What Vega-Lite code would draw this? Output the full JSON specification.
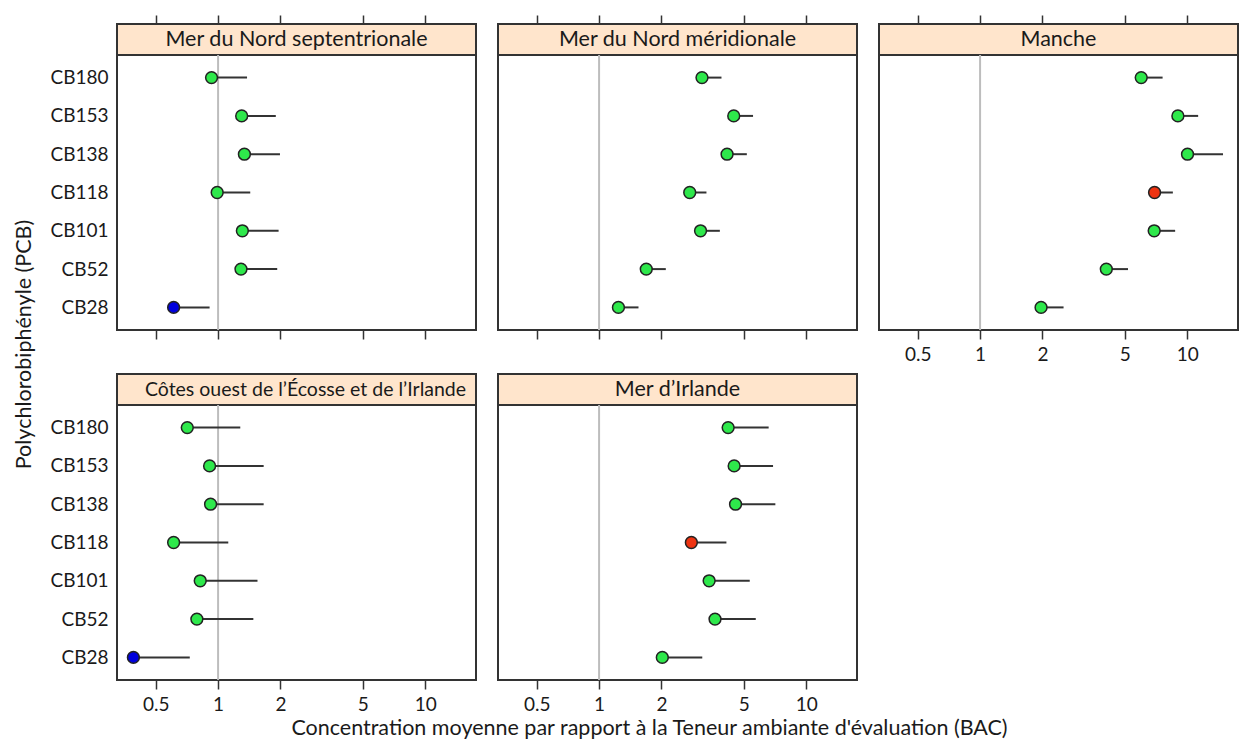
{
  "$schema": "https://vega.github.io/schema/vega-lite/v6.json",
  "padding": {"left": 12, "top": 13, "right": 0, "bottom": 2},
  "background": "white",
  "config": {
    "font": "Lato",
    "view": {"stroke": "#333333", "strokeWidth": 2},
    "axis": {"grid": false, "domain": false, "labelFont": "Lato", "labelFontSize": 19, "labelColor": "#1a1a1a", "tickColor": "#333333", "tickWidth": 1.5},
    "axisX": {"tickSize": 9, "labelPadding": 6},
    "axisY": {"ticks": false, "labelPadding": 9},
    "text": {"font": "Lato", "fontSize": 21.5, "color": "#1a1a1a"}
  },
  "title": {"text": "Concentration moyenne par rapport à la Teneur ambiante d'évaluation (BAC)", "orient": "bottom", "anchor": "middle", "dx": 24, "font": "Lato", "fontSize": 21.5, "fontWeight": "normal", "color": "#1a1a1a", "offset": 3},
  "datasets": {
    "pcb": [
      {"region": "Mer du Nord septentrionale", "pcb": "CB180", "mean": 0.93, "upper": 1.38, "status": "vert"},
      {"region": "Mer du Nord septentrionale", "pcb": "CB153", "mean": 1.30, "upper": 1.90, "status": "vert"},
      {"region": "Mer du Nord septentrionale", "pcb": "CB138", "mean": 1.34, "upper": 1.99, "status": "vert"},
      {"region": "Mer du Nord septentrionale", "pcb": "CB118", "mean": 0.99, "upper": 1.43, "status": "vert"},
      {"region": "Mer du Nord septentrionale", "pcb": "CB101", "mean": 1.31, "upper": 1.96, "status": "vert"},
      {"region": "Mer du Nord septentrionale", "pcb": "CB52", "mean": 1.29, "upper": 1.93, "status": "vert"},
      {"region": "Mer du Nord septentrionale", "pcb": "CB28", "mean": 0.61, "upper": 0.91, "status": "bleu"},
      {"region": "Mer du Nord méridionale", "pcb": "CB180", "mean": 3.14, "upper": 3.90, "status": "vert"},
      {"region": "Mer du Nord méridionale", "pcb": "CB153", "mean": 4.47, "upper": 5.54, "status": "vert"},
      {"region": "Mer du Nord méridionale", "pcb": "CB138", "mean": 4.15, "upper": 5.17, "status": "vert"},
      {"region": "Mer du Nord méridionale", "pcb": "CB118", "mean": 2.74, "upper": 3.30, "status": "vert"},
      {"region": "Mer du Nord méridionale", "pcb": "CB101", "mean": 3.09, "upper": 3.83, "status": "vert"},
      {"region": "Mer du Nord méridionale", "pcb": "CB52", "mean": 1.69, "upper": 2.10, "status": "vert"},
      {"region": "Mer du Nord méridionale", "pcb": "CB28", "mean": 1.24, "upper": 1.55, "status": "vert"},
      {"region": "Manche", "pcb": "CB180", "mean": 6.0, "upper": 7.61, "status": "vert"},
      {"region": "Manche", "pcb": "CB153", "mean": 9.02, "upper": 11.3, "status": "vert"},
      {"region": "Manche", "pcb": "CB138", "mean": 10.04, "upper": 14.9, "status": "vert"},
      {"region": "Manche", "pcb": "CB118", "mean": 6.96, "upper": 8.53, "status": "rouge"},
      {"region": "Manche", "pcb": "CB101", "mean": 6.93, "upper": 8.75, "status": "vert"},
      {"region": "Manche", "pcb": "CB52", "mean": 4.07, "upper": 5.18, "status": "vert"},
      {"region": "Manche", "pcb": "CB28", "mean": 1.97, "upper": 2.53, "status": "vert"},
      {"region": "Côtes ouest de l’Écosse et de l’Irlande", "pcb": "CB180", "mean": 0.71, "upper": 1.28, "status": "vert"},
      {"region": "Côtes ouest de l’Écosse et de l’Irlande", "pcb": "CB153", "mean": 0.91, "upper": 1.66, "status": "vert"},
      {"region": "Côtes ouest de l’Écosse et de l’Irlande", "pcb": "CB138", "mean": 0.92, "upper": 1.66, "status": "vert"},
      {"region": "Côtes ouest de l’Écosse et de l’Irlande", "pcb": "CB118", "mean": 0.61, "upper": 1.12, "status": "vert"},
      {"region": "Côtes ouest de l’Écosse et de l’Irlande", "pcb": "CB101", "mean": 0.82, "upper": 1.55, "status": "vert"},
      {"region": "Côtes ouest de l’Écosse et de l’Irlande", "pcb": "CB52", "mean": 0.79, "upper": 1.48, "status": "vert"},
      {"region": "Côtes ouest de l’Écosse et de l’Irlande", "pcb": "CB28", "mean": 0.39, "upper": 0.73, "status": "bleu"},
      {"region": "Mer d’Irlande", "pcb": "CB180", "mean": 4.20, "upper": 6.59, "status": "vert"},
      {"region": "Mer d’Irlande", "pcb": "CB153", "mean": 4.49, "upper": 6.92, "status": "vert"},
      {"region": "Mer d’Irlande", "pcb": "CB138", "mean": 4.56, "upper": 7.10, "status": "vert"},
      {"region": "Mer d’Irlande", "pcb": "CB118", "mean": 2.79, "upper": 4.12, "status": "rouge"},
      {"region": "Mer d’Irlande", "pcb": "CB101", "mean": 3.40, "upper": 5.34, "status": "vert"},
      {"region": "Mer d’Irlande", "pcb": "CB52", "mean": 3.63, "upper": 5.71, "status": "vert"},
      {"region": "Mer d’Irlande", "pcb": "CB28", "mean": 2.02, "upper": 3.15, "status": "vert"}
    ]
  },
  "bounds": "flush",
  "align": "each",
  "center": false,
  "columns": 3,
  "spacing": {"row": 0, "column": 22},
  "concat": [
    {
      "width": 359, "height": 31,
      "view": {"fill": "#ffe5cc", "stroke": "#333333", "strokeWidth": 2},
      "data": {"values": [{"label": "Mer du Nord septentrionale"}]},
      "layer": [
        {"mark": {"type": "rule", "opacity": 0}, "encoding": {"x": {"datum": 1, "type": "quantitative", "scale": {"type": "log", "domain": [0.325, 17.6], "nice": false}, "axis": {"orient": "top", "labels": false, "values": [0.5, 1, 2, 5, 10], "title": null}}}},
        {"mark": {"type": "text", "baseline": "middle", "align": "center"}, "encoding": {"text": {"field": "label"}}}
      ]
    },
    {
      "width": 359, "height": 31,
      "view": {"fill": "#ffe5cc", "stroke": "#333333", "strokeWidth": 2},
      "data": {"values": [{"label": "Mer du Nord méridionale"}]},
      "layer": [
        {"mark": {"type": "rule", "opacity": 0}, "encoding": {"x": {"datum": 1, "type": "quantitative", "scale": {"type": "log", "domain": [0.325, 17.6], "nice": false}, "axis": {"orient": "top", "labels": false, "values": [0.5, 1, 2, 5, 10], "title": null}}}},
        {"mark": {"type": "text", "baseline": "middle", "align": "center"}, "encoding": {"text": {"field": "label"}}}
      ]
    },
    {
      "width": 359, "height": 31,
      "view": {"fill": "#ffe5cc", "stroke": "#333333", "strokeWidth": 2},
      "data": {"values": [{"label": "Manche"}]},
      "layer": [
        {"mark": {"type": "rule", "opacity": 0}, "encoding": {"x": {"datum": 1, "type": "quantitative", "scale": {"type": "log", "domain": [0.325, 17.6], "nice": false}, "axis": {"orient": "top", "labels": false, "values": [0.5, 1, 2, 5, 10], "title": null}}}},
        {"mark": {"type": "text", "baseline": "middle", "align": "center"}, "encoding": {"text": {"field": "label"}}}
      ]
    },
    {
      "width": 359, "height": 275,
      "layer": [
        {"data": {"values": [{}]}, "mark": {"type": "rule", "color": "#bdbdbd", "strokeWidth": 2}, "encoding": {"x": {"datum": 1, "type": "quantitative", "scale": {"type": "log", "domain": [0.325, 17.6], "nice": false}, "axis": {"labels": false, "values": [0.5, 1, 2, 5, 10], "title": null}}}},
        {"data": {"name": "pcb"}, "transform": [{"filter": "datum.region === 'Mer du Nord septentrionale'"}], "mark": {"type": "rule", "color": "#333333", "strokeWidth": 2}, "encoding": {"x": {"field": "mean", "type": "quantitative"}, "x2": {"field": "upper"}, "y": {"field": "pcb", "type": "nominal", "sort": ["CB180", "CB153", "CB138", "CB118", "CB101", "CB52", "CB28"], "scale": {"type": "point", "padding": 0.59}, "axis": {"title": "Polychlorobiphényle (PCB)", "titleX": -93, "titleY": 289, "titleAngle": 270, "titleAlign": "center", "titleBaseline": "middle", "titleFont": "Lato", "titleFontSize": 21.5, "titleFontWeight": "normal", "titleColor": "#1a1a1a"}}}},
        {"data": {"name": "pcb"}, "transform": [{"filter": "datum.region === 'Mer du Nord septentrionale'"}], "mark": {"type": "circle", "size": 140, "stroke": "#222222", "strokeWidth": 1.5, "opacity": 1}, "encoding": {"x": {"field": "mean", "type": "quantitative"}, "y": {"field": "pcb", "type": "nominal", "sort": ["CB180", "CB153", "CB138", "CB118", "CB101", "CB52", "CB28"], "scale": {"type": "point", "padding": 0.59}, "axis": {"title": "Polychlorobiphényle (PCB)", "titleX": -93, "titleY": 289, "titleAngle": 270, "titleAlign": "center", "titleBaseline": "middle", "titleFont": "Lato", "titleFontSize": 21.5, "titleFontWeight": "normal", "titleColor": "#1a1a1a"}}, "fill": {"field": "status", "type": "nominal", "scale": {"domain": ["vert", "bleu", "rouge"], "range": ["#2ee84b", "#0000dd", "#ee3311"]}, "legend": null}}}
      ]
    },
    {
      "width": 359, "height": 275,
      "layer": [
        {"data": {"values": [{}]}, "mark": {"type": "rule", "color": "#bdbdbd", "strokeWidth": 2}, "encoding": {"x": {"datum": 1, "type": "quantitative", "scale": {"type": "log", "domain": [0.325, 17.6], "nice": false}, "axis": {"labels": false, "values": [0.5, 1, 2, 5, 10], "title": null}}}},
        {"data": {"name": "pcb"}, "transform": [{"filter": "datum.region === 'Mer du Nord méridionale'"}], "mark": {"type": "rule", "color": "#333333", "strokeWidth": 2}, "encoding": {"x": {"field": "mean", "type": "quantitative"}, "x2": {"field": "upper"}, "y": {"field": "pcb", "type": "nominal", "sort": ["CB180", "CB153", "CB138", "CB118", "CB101", "CB52", "CB28"], "scale": {"type": "point", "padding": 0.59}, "axis": null}}},
        {"data": {"name": "pcb"}, "transform": [{"filter": "datum.region === 'Mer du Nord méridionale'"}], "mark": {"type": "circle", "size": 140, "stroke": "#222222", "strokeWidth": 1.5, "opacity": 1}, "encoding": {"x": {"field": "mean", "type": "quantitative"}, "y": {"field": "pcb", "type": "nominal", "sort": ["CB180", "CB153", "CB138", "CB118", "CB101", "CB52", "CB28"], "scale": {"type": "point", "padding": 0.59}, "axis": null}, "fill": {"field": "status", "type": "nominal", "scale": {"domain": ["vert", "bleu", "rouge"], "range": ["#2ee84b", "#0000dd", "#ee3311"]}, "legend": null}}}
      ]
    },
    {
      "width": 359, "height": 275,
      "layer": [
        {"data": {"values": [{}]}, "mark": {"type": "rule", "color": "#bdbdbd", "strokeWidth": 2}, "encoding": {"x": {"datum": 1, "type": "quantitative", "scale": {"type": "log", "domain": [0.325, 17.6], "nice": false}, "axis": {"format": "~g", "values": [0.5, 1, 2, 5, 10], "title": null}}}},
        {"data": {"name": "pcb"}, "transform": [{"filter": "datum.region === 'Manche'"}], "mark": {"type": "rule", "color": "#333333", "strokeWidth": 2}, "encoding": {"x": {"field": "mean", "type": "quantitative"}, "x2": {"field": "upper"}, "y": {"field": "pcb", "type": "nominal", "sort": ["CB180", "CB153", "CB138", "CB118", "CB101", "CB52", "CB28"], "scale": {"type": "point", "padding": 0.59}, "axis": null}}},
        {"data": {"name": "pcb"}, "transform": [{"filter": "datum.region === 'Manche'"}], "mark": {"type": "circle", "size": 140, "stroke": "#222222", "strokeWidth": 1.5, "opacity": 1}, "encoding": {"x": {"field": "mean", "type": "quantitative"}, "y": {"field": "pcb", "type": "nominal", "sort": ["CB180", "CB153", "CB138", "CB118", "CB101", "CB52", "CB28"], "scale": {"type": "point", "padding": 0.59}, "axis": null}, "fill": {"field": "status", "type": "nominal", "scale": {"domain": ["vert", "bleu", "rouge"], "range": ["#2ee84b", "#0000dd", "#ee3311"]}, "legend": null}}}
      ]
    },
    {"width": 359, "height": 44, "view": {"stroke": null}, "data": {"values": [{}]}, "mark": {"type": "text"}, "encoding": {"text": {"value": ""}}},
    {"width": 359, "height": 44, "view": {"stroke": null}, "data": {"values": [{}]}, "mark": {"type": "text"}, "encoding": {"text": {"value": ""}}},
    {"width": 359, "height": 44, "view": {"stroke": null}, "data": {"values": [{}]}, "mark": {"type": "text"}, "encoding": {"text": {"value": ""}}},
    {
      "width": 359, "height": 31,
      "view": {"fill": "#ffe5cc", "stroke": "#333333", "strokeWidth": 2},
      "data": {"values": [{"label": "Côtes ouest de l’Écosse et de l’Irlande"}]},
      "mark": {"type": "text", "baseline": "middle", "align": "center", "fontSize": 19.5, "dx": 9},
      "encoding": {"text": {"field": "label"}}
    },
    {
      "width": 359, "height": 31,
      "view": {"fill": "#ffe5cc", "stroke": "#333333", "strokeWidth": 2},
      "data": {"values": [{"label": "Mer d’Irlande"}]},
      "mark": {"type": "text", "baseline": "middle", "align": "center"},
      "encoding": {"text": {"field": "label"}}
    },
    {"width": 359, "height": 31, "view": {"stroke": null}, "data": {"values": [{}]}, "mark": {"type": "text"}, "encoding": {"text": {"value": ""}}},
    {
      "width": 359, "height": 275,
      "layer": [
        {"data": {"values": [{}]}, "mark": {"type": "rule", "color": "#bdbdbd", "strokeWidth": 2}, "encoding": {"x": {"datum": 1, "type": "quantitative", "scale": {"type": "log", "domain": [0.325, 17.6], "nice": false}, "axis": {"format": "~g", "values": [0.5, 1, 2, 5, 10], "title": null}}}},
        {"data": {"name": "pcb"}, "transform": [{"filter": "datum.region === 'Côtes ouest de l’Écosse et de l’Irlande'"}], "mark": {"type": "rule", "color": "#333333", "strokeWidth": 2}, "encoding": {"x": {"field": "mean", "type": "quantitative"}, "x2": {"field": "upper"}, "y": {"field": "pcb", "type": "nominal", "sort": ["CB180", "CB153", "CB138", "CB118", "CB101", "CB52", "CB28"], "scale": {"type": "point", "padding": 0.59}, "axis": {"title": null}}}},
        {"data": {"name": "pcb"}, "transform": [{"filter": "datum.region === 'Côtes ouest de l’Écosse et de l’Irlande'"}], "mark": {"type": "circle", "size": 140, "stroke": "#222222", "strokeWidth": 1.5, "opacity": 1}, "encoding": {"x": {"field": "mean", "type": "quantitative"}, "y": {"field": "pcb", "type": "nominal", "sort": ["CB180", "CB153", "CB138", "CB118", "CB101", "CB52", "CB28"], "scale": {"type": "point", "padding": 0.59}, "axis": {"title": null}}, "fill": {"field": "status", "type": "nominal", "scale": {"domain": ["vert", "bleu", "rouge"], "range": ["#2ee84b", "#0000dd", "#ee3311"]}, "legend": null}}}
      ]
    },
    {
      "width": 359, "height": 275,
      "layer": [
        {"data": {"values": [{}]}, "mark": {"type": "rule", "color": "#bdbdbd", "strokeWidth": 2}, "encoding": {"x": {"datum": 1, "type": "quantitative", "scale": {"type": "log", "domain": [0.325, 17.6], "nice": false}, "axis": {"format": "~g", "values": [0.5, 1, 2, 5, 10], "title": null}}}},
        {"data": {"name": "pcb"}, "transform": [{"filter": "datum.region === 'Mer d’Irlande'"}], "mark": {"type": "rule", "color": "#333333", "strokeWidth": 2}, "encoding": {"x": {"field": "mean", "type": "quantitative"}, "x2": {"field": "upper"}, "y": {"field": "pcb", "type": "nominal", "sort": ["CB180", "CB153", "CB138", "CB118", "CB101", "CB52", "CB28"], "scale": {"type": "point", "padding": 0.59}, "axis": null}}},
        {"data": {"name": "pcb"}, "transform": [{"filter": "datum.region === 'Mer d’Irlande'"}], "mark": {"type": "circle", "size": 140, "stroke": "#222222", "strokeWidth": 1.5, "opacity": 1}, "encoding": {"x": {"field": "mean", "type": "quantitative"}, "y": {"field": "pcb", "type": "nominal", "sort": ["CB180", "CB153", "CB138", "CB118", "CB101", "CB52", "CB28"], "scale": {"type": "point", "padding": 0.59}, "axis": null}, "fill": {"field": "status", "type": "nominal", "scale": {"domain": ["vert", "bleu", "rouge"], "range": ["#2ee84b", "#0000dd", "#ee3311"]}, "legend": null}}}
      ]
    }
  ]
}
